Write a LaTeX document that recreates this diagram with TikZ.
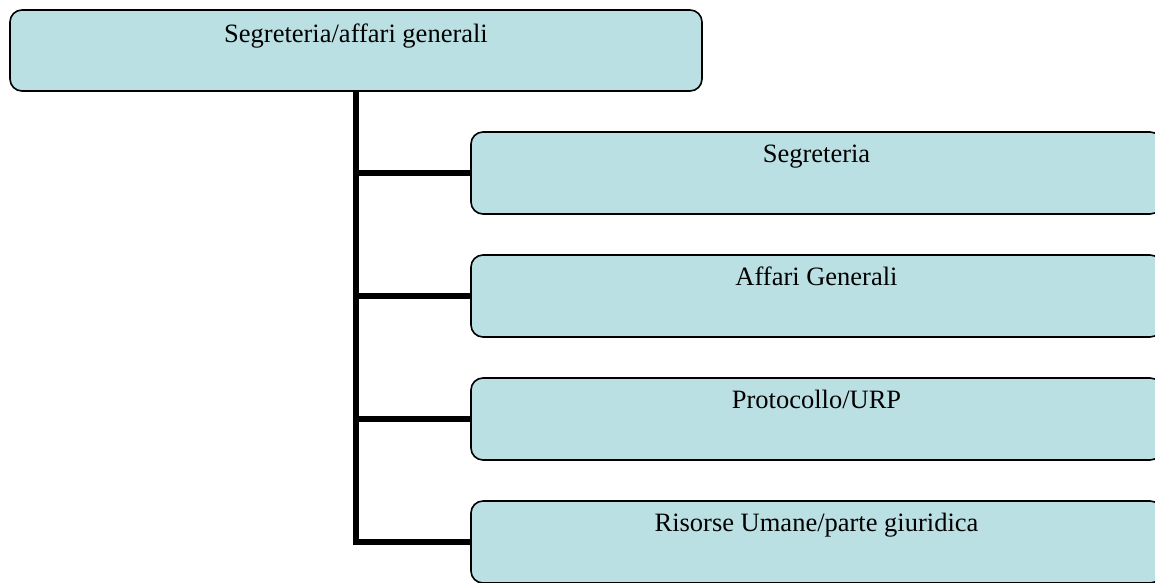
\documentclass[tikz,border=0pt]{standalone}
\usepackage{fontspec}
\setmainfont{Liberation Serif}
\definecolor{boxfill}{RGB}{187,224,227}
\begin{document}
\begin{tikzpicture}[x=1pt,y=-1pt,
  orgbox/.style={draw=black, line width=1.6pt, fill=boxfill, rounded corners=12pt,
    inner sep=0pt, minimum width=691pt, text height=30pt, text depth=52pt,
    font=\fontsize{26.5}{30}\selectfont},
  conn/.style={line width=5.5pt, draw=black}]
\useasboundingbox (0,0) rectangle (1155,582);
\node[orgbox, minimum width=692pt, text height=32pt, text depth=49pt] (top) at (356,50.5) {Segreteria/affari generali};
\node[orgbox] (c1) at (816.5,173) {Segreteria};
\node[orgbox] (c2) at (816.5,296) {Affari Generali};
\node[orgbox] (c3) at (816.5,419) {Protocollo/URP};
\node[orgbox] (c4) at (816.5,542) {Risorse Umane/parte giuridica};
\draw[conn] (top.south) -- (top.south |- c4.west) -- (c4.west);
\draw[conn] (top.south |- c1.west) -- (c1.west);
\draw[conn] (top.south |- c2.west) -- (c2.west);
\draw[conn] (top.south |- c3.west) -- (c3.west);
\end{tikzpicture}
\end{document}
